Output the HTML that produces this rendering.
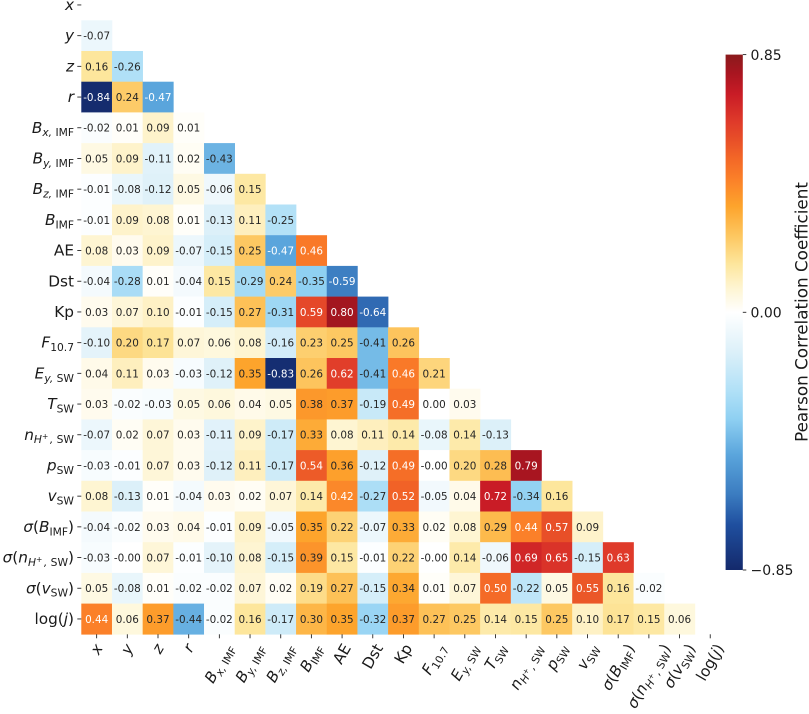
<!DOCTYPE html>
<html lang="en">
<head>
<meta charset="utf-8">
<title>Pearson correlation heatmap</title>
<style>
html,body{margin:0;padding:0;background:#fff;width:809px;height:714px;overflow:hidden}
svg{display:block;font-family:"DejaVu Sans","Liberation Sans",sans-serif;filter:blur(0.3px)}
</style>
</head>
<body>
<svg id="chart" xmlns="http://www.w3.org/2000/svg" width="809" height="714" viewBox="0 0 809 714"></svg>
<script>
const rowValues = [
 [],
 [-0.07],
 [0.16,-0.26],
 [-0.84,0.24,-0.47],
 [-0.02,0.01,0.09,0.01],
 [0.05,0.09,-0.11,0.02,-0.43],
 [-0.01,-0.08,-0.12,0.05,-0.06,0.15],
 [-0.01,0.09,0.08,0.01,-0.13,0.11,-0.25],
 [0.08,0.03,0.09,-0.07,-0.15,0.25,-0.47,0.46],
 [-0.04,-0.28,0.01,-0.04,0.15,-0.29,0.24,-0.35,-0.59],
 [0.03,0.07,0.10,-0.01,-0.15,0.27,-0.31,0.59,0.80,-0.64],
 [-0.10,0.20,0.17,0.07,0.06,0.08,-0.16,0.23,0.25,-0.41,0.26],
 [0.04,0.11,0.03,-0.03,-0.12,0.35,-0.83,0.26,0.62,-0.41,0.46,0.21],
 [0.03,-0.02,-0.03,0.05,0.06,0.04,0.05,0.38,0.37,-0.19,0.49,0.00,0.03],
 [-0.07,0.02,0.07,0.03,-0.11,0.09,-0.17,0.33,0.08,0.11,0.14,-0.08,0.14,-0.13],
 [-0.03,-0.01,0.07,0.03,-0.12,0.11,-0.17,0.54,0.36,-0.12,0.49,-0,0.20,0.28,0.79],
 [0.08,-0.13,0.01,-0.04,0.03,0.02,0.07,0.14,0.42,-0.27,0.52,-0.05,0.04,0.72,-0.34,0.16],
 [-0.04,-0.02,0.03,0.04,-0.01,0.09,-0.05,0.35,0.22,-0.07,0.33,0.02,0.08,0.29,0.44,0.57,0.09],
 [-0.03,-0,0.07,-0.01,-0.10,0.08,-0.15,0.39,0.15,-0.01,0.22,-0,0.14,-0.06,0.69,0.65,-0.15,0.63],
 [0.05,-0.08,0.01,-0.02,-0.02,0.07,0.02,0.19,0.27,-0.15,0.34,0.01,0.07,0.50,-0.22,0.05,0.55,0.16,-0.02],
 [0.44,0.06,0.37,-0.44,-0.02,0.16,-0.17,0.30,0.35,-0.32,0.37,0.27,0.25,0.14,0.15,0.25,0.10,0.17,0.15,0.06]
];
const variableLabels = [
 [["x","i"]],
 [["y","i"]],
 [["z","i"]],
 [["r","i"]],
 [["B","i"],["x,","si"],[" IMF","s"]],
 [["B","i"],["y,","si"],[" IMF","s"]],
 [["B","i"],["z,","si"],[" IMF","s"]],
 [["B","i"],["IMF","s"]],
 [["AE","r"]],
 [["Dst","r"]],
 [["Kp","r"]],
 [["F","i"],["10.7","s"]],
 [["E","i"],["y,","si"],[" SW","s"]],
 [["T","i"],["SW","s"]],
 [["n","i"],["H","si"],["+\u2009","ss"],[",","si"],[" SW","s"]],
 [["p","i"],["SW","s"]],
 [["v","i"],["SW","s"]],
 [["σ","i"],["(","r"],["B","i"],["IMF","s"],[")","r"]],
 [["σ","i"],["(","r"],["n","i"],["H","si"],["+\u2009","ss"],[",","si"],[" SW","s"],[")","r"]],
 [["σ","i"],["(","r"],["v","i"],["SW","s"],[")","r"]],
 [["log(","r"],["j","i"],[")","r"]]
];
const colorbarTicks = [0.85, 0, -0.85];
const colorbarTickLabels = ["0.85", "0.00", "−0.85"];
const colorStops = [
 [-0.85,"#14296b"],[-0.70,"#1f4f9f"],[-0.60,"#3b7cc0"],[-0.47,"#5aa5dc"],[-0.35,"#8fd0f2"],
 [-0.26,"#b0e0f7"],[-0.13,"#dcf0f9"],[0,"#ffffff"],[0.08,"#fef5d2"],[0.16,"#fde69c"],
 [0.25,"#fdc862"],[0.35,"#fda42c"],[0.44,"#fb8029"],[0.50,"#f46a27"],[0.57,"#e84f28"],
 [0.63,"#df3a2a"],[0.72,"#c91c26"],[0.79,"#a81520"],[0.85,"#8a1a1c"]
];

const NS = "http://www.w3.org/2000/svg";
const svg = document.getElementById("chart");
const TEXT = "#262626";
const cellW = 30.68, cellH = 30.7, plotLeft = 81.3, plotTop = -10.4;
const xAxis = i => plotLeft + i * cellW;
const yAxis = i => plotTop + i * cellH;
const plotBottom = yAxis(variableLabels.length);
const cbLeft = 725.6, cbWidth = 17.2, cbTop = 54.6, cbBottom = 570;
const cbScale = v => cbBottom - (v + 0.85) / 1.7 * (cbBottom - cbTop);

function hex(c){return [1,3,5].map(i=>parseInt(c.substr(i,2),16));}
function colorFor(v){
  for(let i=1;i<colorStops.length;i++){
    if(v<=colorStops[i][0]){
      const a=colorStops[i-1],b=colorStops[i];
      const t=Math.max(0,(v-a[0])/(b[0]-a[0]));
      const p=hex(a[1]),q=hex(b[1]);
      return "rgb("+p.map((x,k)=>Math.round(x+(q[k]-x)*t)).join(",")+")";
    }
  }
  return colorStops[colorStops.length-1][1];
}
function mk(tag,attrs,parent){
  const e=document.createElementNS(NS,tag);
  for(const k in attrs)e.setAttribute(k,attrs[k]);
  (parent||svg).appendChild(e);
  return e;
}
function fmt(v){
  return (Object.is(v,-0)?"-0.00":v.toFixed(2));
}
function lightText(v){
  return v>=0.42||v<=-0.45;
}
const baseShift={r:0,i:0,s:3.4,si:3.4,ss:-0.6};
const sizeOf={r:15.3,i:15.3,s:10.7,si:10.7,ss:7.6};
function fillLabel(t,segments){
  let cur=0;
  segments.forEach(seg=>{
    const ts=mk("tspan",{},t);
    ts.textContent=seg[0];
    ts.setAttribute("xml:space","preserve");
    ts.style.whiteSpace="pre";
    ts.setAttribute("font-size",sizeOf[seg[1]]);
    if(seg[1]==="i"||seg[1]==="si"||seg[1]==="ss")ts.setAttribute("font-style","oblique");
    const sh=baseShift[seg[1]];
    ts.setAttribute("dy",sh-cur);
    cur=sh;
  });
}

/* heatmap cells */
const cellLayer=mk("g",{});


rowValues.forEach((row,r)=>{
  row.forEach((v,c)=>{
    const rect=mk("rect",{x:xAxis(c),y:yAxis(r),width:cellW+0.3,height:cellH+0.3,fill:colorFor(v)},cellLayer);
    
    
  });
});
rowValues.forEach((row,r)=>{
  row.forEach((v,c)=>{
    const t=mk("text",{x:xAxis(c)+cellW/2,y:yAxis(r)+cellH/2+3.9,"text-anchor":"middle","font-size":10.4,fill:lightText(v)?"#ffffff":TEXT},cellLayer);
    
    
    t.textContent=fmt(v);
  });
});

/* y axis */
const yAxisLayer=mk("g",{});


variableLabels.forEach((lab,i)=>{
  const cy=yAxis(i)+cellH/2;
  const tick=mk("line",{x1:plotLeft-4,x2:plotLeft,y1:cy,y2:cy,stroke:TEXT,"stroke-width":0.9},yAxisLayer);
  
  
  const t=mk("text",{x:74,y:cy+5,"text-anchor":"end",fill:"#1a1a1a"},yAxisLayer);
  
  
  fillLabel(t,lab);
});

/* x axis */
const xAxisLayer=mk("g",{});


variableLabels.forEach((lab,i)=>{
  const cx=xAxis(i)+cellW/2;
  const tick=mk("line",{x1:cx,x2:cx,y1:plotBottom,y2:plotBottom+4,stroke:TEXT,"stroke-width":0.9},xAxisLayer);
  
  
  const t=mk("text",{x:0,y:0,"text-anchor":"middle",fill:"#1a1a1a"},xAxisLayer);
  
  
  fillLabel(t,lab);
  const w=t.getComputedTextLength();
  const h=12;
  const sin=Math.sin(Math.PI/3),cos=Math.cos(Math.PI/3);
  const halfExtent=(w*sin+h*cos)/2;
  const cy=plotBottom+8+halfExtent;
  t.setAttribute("transform","translate("+cx+","+cy+") rotate(-60) translate(0,5)");
});

/* colorbar */
const cb=mk("g",{});


const defs=mk("defs",{},cb);
const grad=mk("linearGradient",{id:"cbGrad",x1:0,y1:1,x2:0,y2:0},defs);
colorStops.forEach(s=>{
  mk("stop",{offset:(s[0]+0.85)/1.7,"stop-color":s[1]},grad);
});
const bar=mk("rect",{x:cbLeft,y:cbTop,width:cbWidth,height:cbBottom-cbTop,fill:"url(#cbGrad)"},cb);


colorbarTicks.forEach((v,i)=>{
  const y=cbScale(v);
  const tick=mk("line",{x1:cbLeft+cbWidth,x2:cbLeft+cbWidth+3.5,y1:y,y2:y,stroke:TEXT,"stroke-width":0.9},cb);
  
  
  const t=mk("text",{x:750.5,y:y+5.2,"font-size":14,fill:"#1a1a1a"},cb);
  
  
  t.textContent=colorbarTickLabels[i];
});
const title=mk("text",{transform:"translate(807.5,312) rotate(-90)","text-anchor":"middle","font-size":16.8,fill:"#1a1a1a"},cb);


title.textContent="Pearson Correlation Coefficient";
</script>
</body>
</html>
